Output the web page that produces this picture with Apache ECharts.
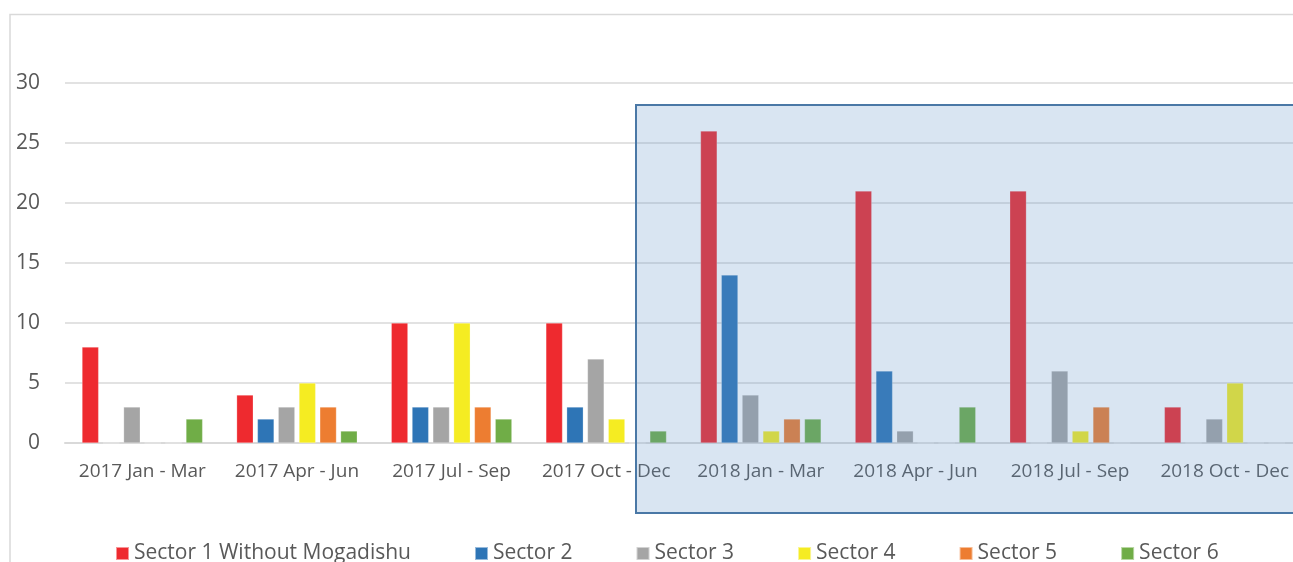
<!DOCTYPE html>
<html>
<head>
<meta charset="utf-8">
<script src="https://cdn.jsdelivr.net/npm/echarts@6/dist/echarts.min.js"></script>
<style>
  html, body { margin: 0; padding: 0; background: #fff; }
  #main { width: 1293px; height: 562px; }
</style>
</head>
<body>
<div id="main"></div>
<script>
const periods = ['2017 Jan - Mar', '2017 Apr - Jun', '2017 Jul - Sep', '2017 Oct - Dec',
  '2018 Jan - Mar', '2018 Apr - Jun', '2018 Jul - Sep', '2018 Oct - Dec'];
const sectorNames = ['Sector 1 Without Mogadishu', 'Sector 2', 'Sector 3', 'Sector 4', 'Sector 5', 'Sector 6'];
const sector1 = [8, 4, 10, 10, 26, 21, 21, 3];
const sector2 = [0, 2, 3, 3, 14, 6, 0, 0];
const sector3 = [3, 3, 3, 7, 4, 1, 6, 2];
const sector4 = [0, 5, 10, 2, 1, 0, 1, 5];
const sector5 = [0, 3, 3, 0, 2, 0, 3, 0];
const sector6 = [2, 1, 2, 1, 2, 3, 0, 0];
const yTicks = [0, 5, 10, 15, 20, 25, 30];

const colors = ['#EE2A2F', '#2E75B6', '#A5A5A5', '#F5EC22', '#ED7D31', '#70AD47'];
const allData = [sector1, sector2, sector3, sector4, sector5, sector6];

const chart = echarts.init(document.getElementById('main'));

const series = sectorNames.map((name, i) => ({
  name: name,
  type: 'bar',
  data: allData[i],
  barGap: '25%',
  barCategoryGap: '22%',
  itemStyle: { color: colors[i], borderColor: 'rgba(255,255,255,0.5)', borderWidth: 0.5 }
}));

chart.setOption({
  animation: false,
  textStyle: { fontFamily: 'Open Sans' },
  grid: { left: 65, width: 1237, top: 83, bottom: 119, outerBoundsMode: 'none', containLabel: false },
  legend: {
    data: sectorNames,
    left: 115,
    top: 543,
    padding: 0,
    itemWidth: 13,
    itemHeight: 13,
    itemGap: 63,
    icon: 'rect',
    textStyle: { color: '#595959', fontSize: 21, fontFamily: 'Open Sans' }
  },
  xAxis: {
    type: 'category',
    data: periods,
    axisLine: { lineStyle: { color: '#D9D9D9', width: 2 } },
    axisTick: { show: false },
    axisLabel: { color: '#595959', fontSize: 19, margin: 19, interval: 0 }
  },
  yAxis: {
    type: 'value',
    min: yTicks[0],
    max: yTicks[yTicks.length - 1],
    interval: 5,
    axisLine: { show: false },
    axisTick: { show: false },
    axisLabel: { color: '#595959', fontSize: 21, margin: 25 },
    splitLine: { lineStyle: { color: '#D9D9D9', width: 1.5 } }
  },
  series: series,
  graphic: [
    {
      type: 'rect',
      z: 0,
      silent: true,
      shape: { x: 10, y: 14.5, width: 1400, height: 700 },
      style: { fill: 'none', stroke: '#D9D9D9', lineWidth: 1.5 }
    },
    {
      type: 'rect',
      z: 100,
      silent: true,
      shape: { x: 636, y: 105, width: 700, height: 408 },
      style: { fill: 'rgba(94,145,200,0.235)', stroke: '#4A78A6', lineWidth: 2 }
    }
  ]
});
</script>
</body>
</html>
